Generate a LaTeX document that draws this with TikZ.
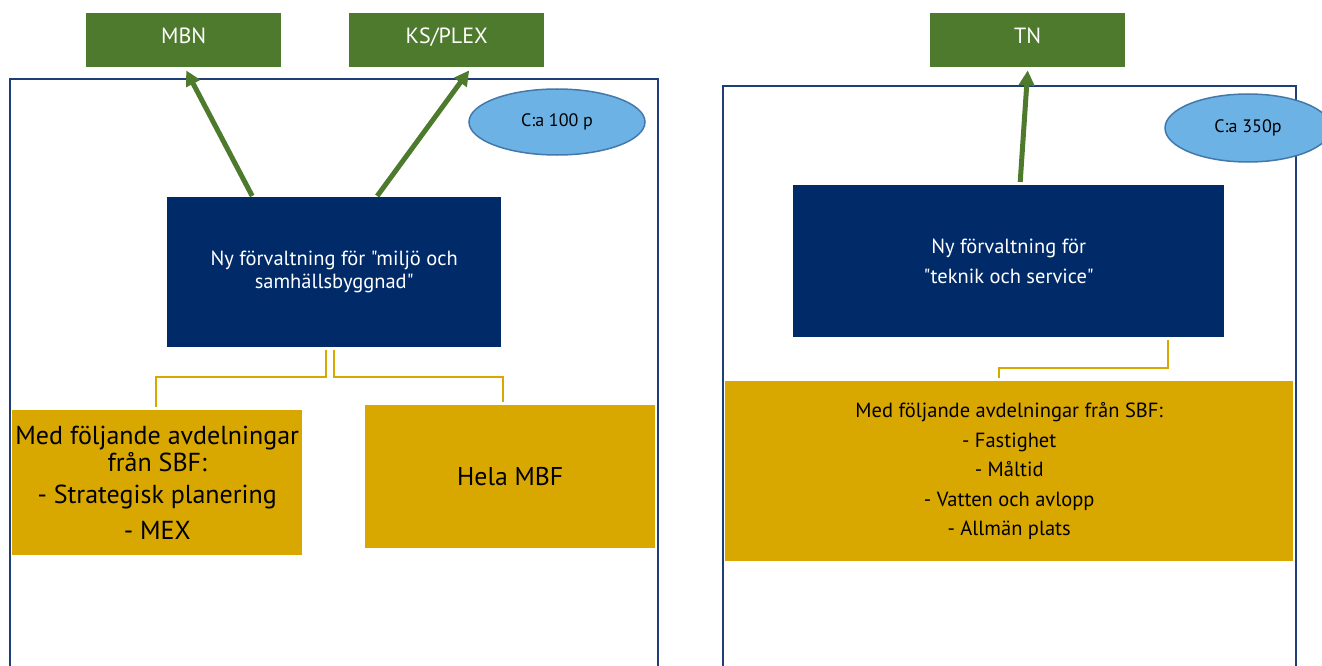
\documentclass[tikz,border=0pt]{standalone}
\usepackage{fontspec}
\setmainfont{PT Sans}[Ligatures=TeXOff]
\usetikzlibrary{arrows.meta,shapes.geometric}
\definecolor{ggreen}{HTML}{4E7A2D}
\definecolor{navy}{HTML}{002A68}
\definecolor{gold}{HTML}{D9A800}
\definecolor{lblue}{HTML}{6CB2E4}
\definecolor{lbluedge}{HTML}{4478AA}
\definecolor{frame}{HTML}{1F3E77}
\tikzset{
  greenbox/.style={fill=ggreen, draw=none, anchor=north west, inner sep=0pt, minimum width=195pt, minimum height=54pt, text=white, text depth=10pt, font=\fontsize{22}{26}\selectfont},
  navybox/.style={fill=navy, draw=none, anchor=north west, inner sep=0pt, text=white, align=center},
  goldbox/.style={fill=gold, draw=none, anchor=north west, inner sep=0pt, text=black, align=center},
  oval/.style={ellipse, fill=lblue, draw=lbluedge, line width=1.5pt, inner sep=0pt, font=\fontsize{18}{21}\selectfont},
  framebox/.style={draw=frame, line width=2pt},
  upar/.style={draw=ggreen, line width=5pt, -{Triangle[length=15pt,width=15pt]}},
  conn/.style={draw=gold, line width=2pt},
}
\begin{document}
\begin{tikzpicture}[x=1pt,y=-1pt]
\useasboundingbox (0,0) rectangle (1322,666);
% frames
\draw[framebox] (10,680) -- (10,79) -- (658,79) -- (658,680);
\draw[framebox] (723,680) -- (723,86) -- (1296,86) -- (1296,680);
% top boxes
\node[greenbox] (mbn) at (86,13) {MBN};
\node[greenbox] (ks) at (349,13) {KS/PLEX};
\node[greenbox] (tn) at (930,13) {TN};
% ellipses
\node[oval, minimum width=176pt, minimum height=66pt] (ellL) at (557,122) {C:a 100 p};
\node[oval, minimum width=166pt, minimum height=68pt] (ellR) at (1248,128) {C:a 350p};
% navy boxes
\node[navybox, minimum width=334pt, minimum height=150pt, font=\fontsize{20.5}{23}\selectfont] (blueL) at (167,197) {Ny förvaltning för "miljö och\\samhällsbyggnad"};
\node[navybox, minimum width=431pt, minimum height=152pt, font=\fontsize{20.5}{30}\selectfont] (blueR) at (793,185) {Ny förvaltning för\\"teknik och service"};
% gold boxes
\node[goldbox, minimum width=290pt, minimum height=145pt, font=\fontsize{26}{27}\selectfont] (goldL1) at (12,410) {Med följande avdelningar\\från SBF:\hspace*{60pt}\\[5pt]- Strategisk planering\\[9pt]- MEX};
\node[goldbox, minimum width=290pt, minimum height=143pt, font=\fontsize{25.7}{28}\selectfont] (goldL2) at (365,405) {Hela MBF};
\node[goldbox, minimum width=568pt, minimum height=180pt, font=\fontsize{20.5}{29.5}\selectfont] (goldR) at (725,381) {Med följande avdelningar från SBF:\\- Fastighet\\- Måltid\\- Vatten och avlopp\\- Allmän plats};
% arrows
\draw[upar] ([xshift=-82pt,yshift=1pt]blueL.north) -- ([xshift=2.5pt,yshift=-3pt]mbn.south);
\draw[upar] ([xshift=43pt,yshift=1pt]blueL.north) -- ([xshift=22.5pt,yshift=-3pt]ks.south);
\draw[upar] ([xshift=11.5pt,yshift=3pt]blueR.north) -- ([yshift=-3pt]tn.south);
% gold connectors
\draw[conn] ([xshift=-8pt,yshift=-3pt]blueL.south) -- ++(0,27) -| ([xshift=-1pt,yshift=3pt]goldL1.north);
\draw[conn] ([xshift=0pt,yshift=-3pt]blueL.south) -- ++(0,27) -| ([xshift=-7pt,yshift=3pt]goldL2.north);
\draw[conn] ([xshift=159.5pt,yshift=-3pt]blueR.south) -- ++(0,28) -| ([xshift=-10pt,yshift=3pt]goldR.north);
\end{tikzpicture}
\end{document}
